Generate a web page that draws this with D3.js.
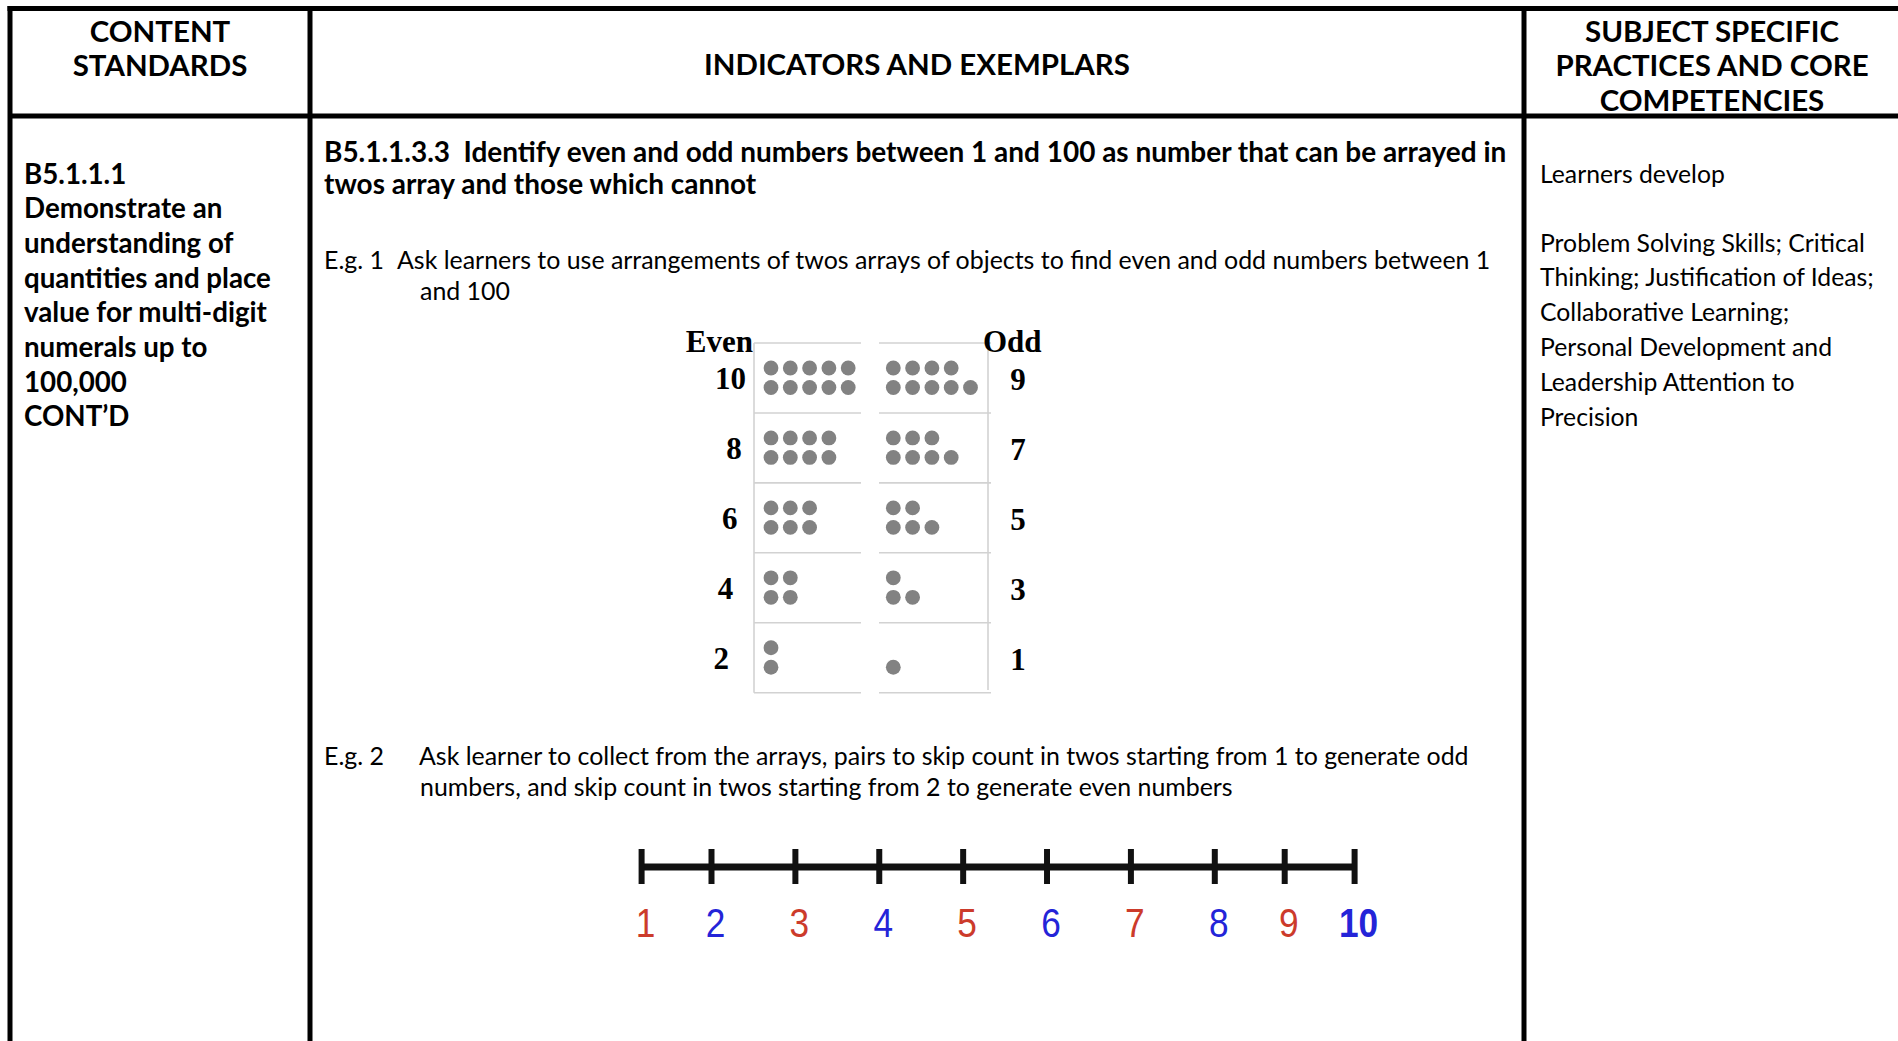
<!DOCTYPE html>
<html><head><meta charset="utf-8">
<script src="https://cdn.jsdelivr.net/npm/d3@7"></script>
<style>html,body{margin:0;padding:0;background:#fff;overflow:hidden} text{white-space:pre}</style>
</head><body><svg id="c" width="1898" height="1041"></svg>
<script>
// ---------- data ----------
const headerLeft = ["CONTENT", "STANDARDS"];
const headerMid = ["INDICATORS AND EXEMPLARS"];
const headerRight = ["SUBJECT SPECIFIC", "PRACTICES AND CORE", "COMPETENCIES"];
const standardLines = ["B5.1.1.1", "Demonstrate an", "understanding of", "quantities and place", "value for multi-digit", "numerals up to", "100,000", "CONT’D"];
const indicatorLines = ["B5.1.1.3.3  Identify even and odd numbers between 1 and 100 as number that can be arrayed in", "twos array and those which cannot"];
const eg1Label = "E.g. 1";
const eg1Lines = ["Ask learners to use arrangements of twos arrays of objects to find even and odd numbers between 1", "and 100"];
const eg2Label = "E.g. 2";
const eg2Lines = ["Ask learner to collect from the arrays, pairs to skip count in twos starting from 1 to generate odd", "numbers, and skip count in twos starting from 2 to generate even numbers"];
const competencyIntro = ["Learners develop"];
const competencyLines = ["Problem Solving Skills; Critical", "Thinking; Justification of Ideas;", "Collaborative Learning;", "Personal Development and", "Leadership Attention to", "Precision"];
const arrayHeaders = ["Even", "Odd"];
const evenNumbers = [10, 8, 6, 4, 2];
const oddNumbers = [9, 7, 5, 3, 1];
const numberLineValues = [1, 2, 3, 4, 5, 6, 7, 8, 9, 10];
const numberLineSteps = [0, 5, 11, 17, 23, 29, 35, 41, 46, 51];

// ---------- drawing ----------
const svg = d3.select("#c");
const W = 1898, H = 1041;
const SANS = "Lato, 'Open Sans', sans-serif";
const SERIF = "'Liberation Serif', 'DejaVu Serif', serif";
const ARIAL = "'Liberation Sans', Arial, sans-serif";

function fitSize(text, weight, family, target) {
  const t = svg.append("text").attr("font-family", family).attr("font-weight", weight)
    .attr("font-size", 100).text(text);
  const w = t.node().getComputedTextLength();
  t.remove();
  return 100 * target / w;
}
function block(lines, x, y0, dy, size, weight, anchor) {
  svg.append("g").selectAll("text").data(lines).join("text")
    .attr("x", x).attr("y", (d, i) => y0 + i * dy)
    .attr("font-family", SANS).attr("font-weight", weight).attr("font-size", size)
    .attr("text-anchor", anchor || "start").attr("fill", "#000").text(d => d);
}

// table frame
const frame = svg.append("g").attr("stroke", "#000").attr("stroke-width", 5);
frame.append("line").attr("x1", 7.5).attr("x2", W).attr("y1", 8.5).attr("y2", 8.5);
frame.append("line").attr("x1", 10).attr("x2", 10).attr("y1", 6).attr("y2", H);
frame.append("line").attr("x1", 10).attr("x2", W).attr("y1", 116).attr("y2", 116);
frame.append("line").attr("x1", 310).attr("x2", 310).attr("y1", 6).attr("y2", H);
frame.append("line").attr("x1", 1524).attr("x2", 1524).attr("y1", 6).attr("y2", H);

// header
const hSize = fitSize(headerMid[0], 700, SANS, 426);
block(headerLeft, 160, 41.5, 34.5, hSize, 700, "middle");
block(headerMid, 917, 75, 34.5, hSize, 700, "middle");
block(headerRight, 1712, 41.5, 34.5, hSize, 700, "middle");

// left column
const lSize = fitSize(standardLines[3], 700, SANS, 247);
block(standardLines, 24, 183.5, 34.7, lSize, 700);

// middle column
const mBold = fitSize(indicatorLines[0], 700, SANS, 1183);
block(indicatorLines, 324, 161.5, 32, mBold, 700);
const mReg = fitSize(eg1Lines[0], 400, SANS, 1094);
block([eg1Label], 324, 268.5, 0, mReg, 400);
block([eg1Lines[0]], 397, 268.5, 0, mReg, 400);
block([eg1Lines[1]], 420, 299.5, 0, mReg, 400);
block([eg2Label], 324, 764.5, 0, mReg, 400);
block([eg2Lines[0]], 419, 764.5, 0, mReg, 400);
block([eg2Lines[1]], 420, 795.5, 0, mReg, 400);

// right column
const rSize = fitSize(competencyLines[0], 400, SANS, 325);
block(competencyIntro, 1540, 182.5, 0, rSize, 400);
block(competencyLines, 1540, 251.5, 34.8, rSize, 400);

// ---------- dot arrays ----------
const arr = svg.append("g");
const bandY = d3.scaleBand().domain(d3.range(evenNumbers.length)).range([343, 692.7]);
const rowOff = [25, 44.5];
const evenX = d3.scaleLinear().domain([0, 1]).range([771, 790.3]);
const oddX = d3.scaleLinear().domain([0, 1]).range([893.3, 912.6]);
const evenLabelX = d3.scaleLinear().domain([0, evenNumbers.length - 1]).range([746, 729]);
const boundaries = d3.range(evenNumbers.length + 1).map(i => 343 + i * bandY.step());
const gridC = "#d2d2d2";
arr.selectAll(".hl").data(boundaries).join("line").attr("class", "hl")
  .attr("x1", 754).attr("x2", 861).attr("y1", d => d).attr("y2", d => d)
  .attr("stroke", gridC).attr("stroke-width", 1.6);
arr.selectAll(".hr").data(boundaries).join("line").attr("class", "hr")
  .attr("x1", 879).attr("x2", 991).attr("y1", d => d).attr("y2", d => d)
  .attr("stroke", gridC).attr("stroke-width", 1.6);
arr.append("line").attr("x1", 754).attr("x2", 754).attr("y1", 343).attr("y2", 692.7)
  .attr("stroke", gridC).attr("stroke-width", 1.6);
arr.append("line").attr("x1", 988).attr("x2", 988).attr("y1", 343).attr("y2", 690)
  .attr("stroke", gridC).attr("stroke-width", 1.6);

const dots = [];
evenNumbers.forEach((n, i) => {
  for (let k = 0; k < n / 2; k++) { dots.push({ x: evenX(k), y: bandY(i) + rowOff[0] }); dots.push({ x: evenX(k), y: bandY(i) + rowOff[1] }); }
});
oddNumbers.forEach((n, i) => {
  const top = (n - 1) / 2, bot = (n + 1) / 2;
  for (let k = 0; k < top; k++) dots.push({ x: oddX(k), y: bandY(i) + rowOff[0] });
  for (let k = 0; k < bot; k++) dots.push({ x: oddX(k), y: bandY(i) + rowOff[1] });
});
arr.selectAll("circle").data(dots).join("circle")
  .attr("cx", d => d.x).attr("cy", d => d.y).attr("r", 7.4).attr("fill", "#828282");

// array headers and numbers
arr.append("text").attr("x", 753).attr("y", 352).attr("text-anchor", "end")
  .attr("font-family", SERIF).attr("font-weight", 700).attr("font-size", 31).text(arrayHeaders[0]);
arr.append("text").attr("x", 983).attr("y", 352).attr("text-anchor", "start")
  .attr("font-family", SERIF).attr("font-weight", 700).attr("font-size", 31).text(arrayHeaders[1]);
arr.selectAll(".en").data(evenNumbers).join("text").attr("class", "en")
  .attr("x", (d, i) => evenLabelX(i)).attr("y", (d, i) => bandY(i) + bandY.bandwidth() / 2 + 11).attr("text-anchor", "end")
  .attr("font-family", SERIF).attr("font-weight", 700).attr("font-size", 31).text(d => d);
arr.selectAll(".on").data(oddNumbers).join("text").attr("class", "on")
  .attr("x", 1018).attr("y", (d, i) => bandY(i) + bandY.bandwidth() / 2 + 12).attr("text-anchor", "middle")
  .attr("font-family", SERIF).attr("font-weight", 700).attr("font-size", 31).text(d => d);

// ---------- number line ----------
const nl = svg.append("g");
const xN = d3.scaleLinear().domain([0, 51]).range([641.6, 1354.6]);
const lineY = 867;
nl.append("line").attr("x1", xN(0)).attr("x2", xN(51)).attr("y1", lineY).attr("y2", lineY)
  .attr("stroke", "#111").attr("stroke-width", 7);
nl.selectAll(".tk").data(numberLineSteps).join("line").attr("class", "tk")
  .attr("x1", d => xN(d)).attr("x2", d => xN(d)).attr("y1", 849).attr("y2", 884)
  .attr("stroke", "#111").attr("stroke-width", 6);
nl.selectAll(".lb").data(numberLineValues).join("text").attr("class", "lb")
  .attr("transform", (d, i) => `translate(${xN(numberLineSteps[i]) + 4},937) scale(0.86,1)`)
  .attr("text-anchor", "middle")
  .attr("font-family", ARIAL).attr("font-size", 41)
  .attr("font-weight", d => d === 10 ? 700 : 400)
  .attr("fill", d => d % 2 ? "#cc3b2b" : "#2424d8").text(d => d);
</script></body></html>
